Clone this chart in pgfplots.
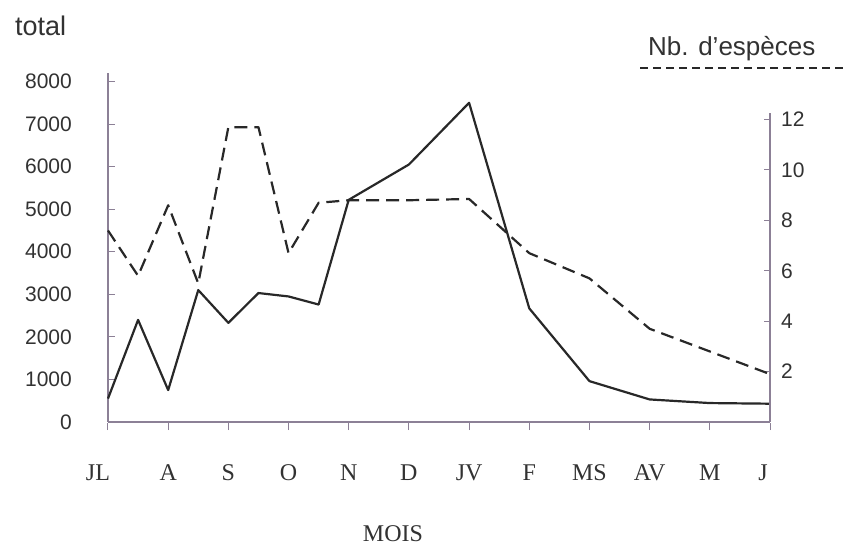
\documentclass[border=0pt]{standalone}
\usepackage{pgfplots}
\pgfplotsset{compat=1.18}
\usepackage{fontspec}
\setmainfont{Liberation Sans}
\newfontfamily\seriffont{Liberation Serif}
\definecolor{axcol}{RGB}{140,128,150}
\definecolor{linecol}{RGB}{40,40,40}
\definecolor{txtcol}{RGB}{50,50,50}

\pgfplotstableread{
x total
0 550
0.5 2400
1.0 750
1.5 3100
2.0 2330
2.5 3030
3.0 2950
3.5 2760
4.0 5220
5.0 6050
6.0 7500
7.0 2670
8.0 960
9.0 530
10.0 445
11.0 430
}\totaldata

\pgfplotstableread{
x esp
0 7.6
0.5 5.8
1.0 8.6
1.5 5.5
2.0 11.7
2.5 11.7
3.0 6.7
3.5 8.7
4.0 8.8
5.0 8.8
6.0 8.85
7.0 6.7
8.0 5.7
9.0 3.7
10.0 2.8
11.0 1.9
}\espdata

\begin{document}
\begin{tikzpicture}
\useasboundingbox (-108pt,-127pt) rectangle (738pt,422pt);
\begin{axis}[
 at={(0pt,0pt)}, anchor=south west,
 scale only axis, width=662pt, height=349pt,
 xmin=0, xmax=11, ymin=0, ymax=8200,
 axis x line=bottom, axis y line=left,
 axis line style={axcol, line width=1.1pt, -},
 every outer x axis line/.append style={-},
 every outer y axis line/.append style={-},
 tick align=inside,
 xtick={0,...,11},
 xticklabels={\makebox[0pt]{\hspace{-20pt}JL},A,S,O,N,D,JV,F,MS,AV,M,\makebox[0pt]{\hspace{-14pt}J}},
 ytick={0,1000,...,8000},
 major tick length=7pt,
 tick style={axcol, line width=1pt},
 xtick style={yshift=-8pt},
 yticklabel style={font=\fontsize{21}{21}\selectfont, text=txtcol, inner sep=0pt, anchor=east, xshift=-36pt},
 xticklabel style={font=\seriffont\fontsize{24}{24}\selectfont, text=txtcol, inner sep=0pt, anchor=base, yshift=-58pt},
 /pgf/number format/assume math mode=true,
 /pgf/number format/1000 sep={},
 clip=false,
]
\addplot[linecol, line width=2.2pt, line join=round] table[x=x, y=total] {\totaldata};
\end{axis}
\begin{axis}[
 at={(0pt,0pt)}, anchor=south west,
 scale only axis, width=662pt, height=308.7pt,
 xmin=0, xmax=11, ymin=0, ymax=12.25,
 axis x line=none, axis y line*=right,
 axis line style={axcol, line width=1.1pt, -},
 every outer y axis line/.append style={-},
 tick align=inside,
 ytick={2,4,...,12},
 major tick length=6pt,
 tick style={axcol, line width=1pt},
 yticklabel style={font=\fontsize{21}{21}\selectfont, text=txtcol, inner sep=0pt, anchor=west, xshift=11pt},
 /pgf/number format/assume math mode=true,
 clip=false,
]
\addplot[linecol, line width=2.2pt, dash pattern=on 13pt off 7pt, line join=round] table[x=x, y=esp] {\espdata};
\end{axis}
\node[anchor=base west, inner sep=0pt, font=\fontsize{27}{27}\selectfont, text=txtcol] at (-93pt,386pt) {total};
\node[anchor=base west, inner sep=0pt, font=\fontsize{26}{26}\selectfont, text=txtcol] at (540pt,366pt) {Nb. d'espèces};
\draw[linecol, line width=1.4pt, dash pattern=on 8pt off 5pt] (532pt,354pt) -- (738pt,354pt);
\node[anchor=base, inner sep=0pt, font=\seriffont\fontsize{24}{24}\selectfont, text=txtcol] at (285pt,-119pt) {MOIS};
\end{tikzpicture}
\end{document}
